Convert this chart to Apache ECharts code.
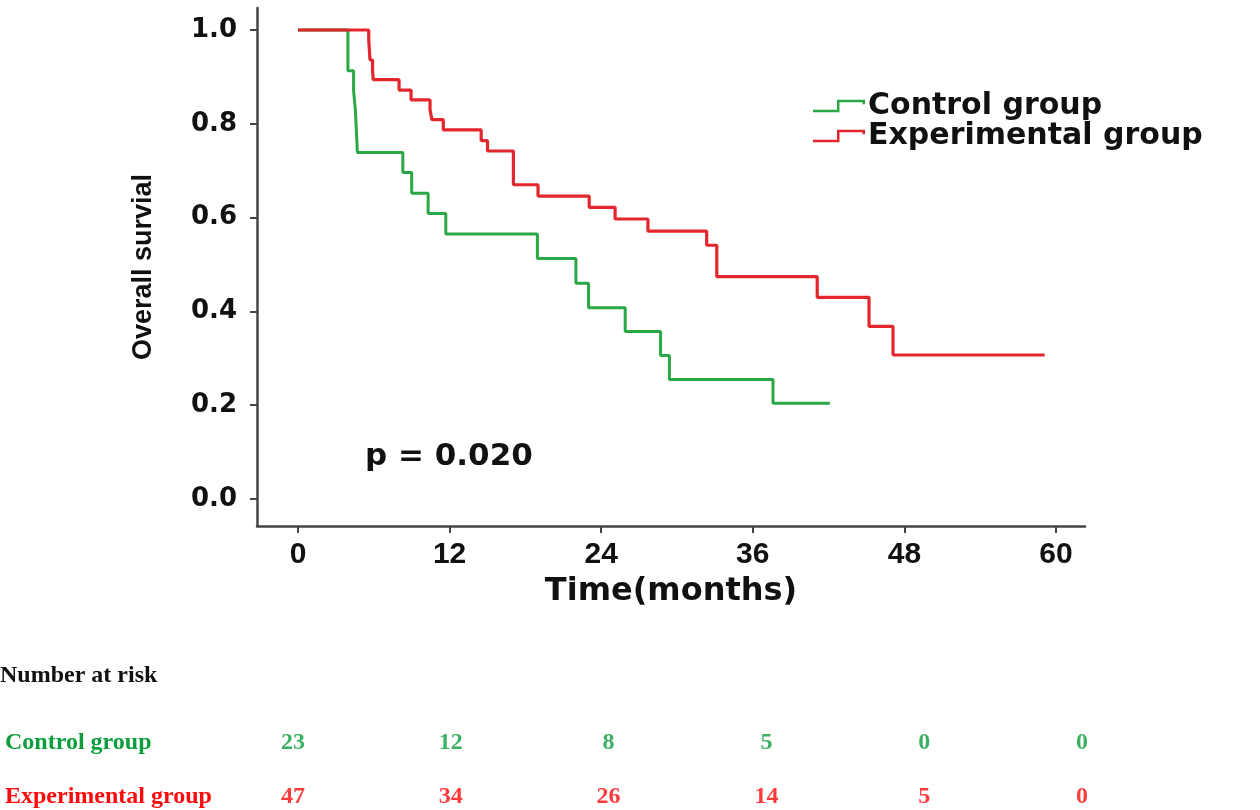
<!DOCTYPE html>
<html>
<head>
<meta charset="utf-8">
<title>Overall survival</title>
<script src="https://cdn.jsdelivr.net/npm/echarts@6/dist/echarts.min.js"></script>
<style>
  html, body { margin: 0; padding: 0; background: #fff; }
  #chart { width: 1260px; height: 810px; }
</style>
</head>
<body>
<div id="chart"></div>
<script>
// 曲线数据：时间(月) 与 生存率
var controlTime = [0, 3.95, 4.4, 4.55, 4.7, 8.3, 9.0, 10.3, 11.7, 18.95, 22.0, 23.0, 25.9, 28.7, 29.4, 37.6, 42.1];
var controlSurv = [1.0, 0.913, 0.870, 0.826, 0.739, 0.696, 0.652, 0.609, 0.565, 0.513, 0.460, 0.408, 0.357, 0.306, 0.255, 0.204, 0.204];

var expTime = [0, 5.6, 5.65, 5.7, 5.9, 5.95, 8.0, 8.95, 10.45, 10.6, 11.5, 14.5, 15.0, 17.05, 19.0, 23.05, 25.1, 27.7, 32.35, 33.15, 41.1, 45.2, 47.1, 59.1];
var expSurv = [1.0, 0.979, 0.957, 0.936, 0.915, 0.894, 0.872, 0.851, 0.830, 0.809, 0.787, 0.764, 0.742, 0.670, 0.646, 0.622, 0.597, 0.571, 0.541, 0.474, 0.430, 0.368, 0.307, 0.307];

// 坐标轴刻度
var xTicks = [0, 12, 24, 36, 48, 60];
var yTicks = [0, 0.2, 0.4, 0.6, 0.8, 1.0];

// 风险人数表
var groupNames = ['Control group', 'Experimental group'];
var riskTimes = [0, 12, 24, 36, 48, 60];
var riskControl = [23, 12, 8, 5, 0, 0];
var riskExp = [47, 34, 26, 14, 5, 0];

var pValueText = 'p = 0.020';

var curveGreen = '#2aa846';
var curveRed = '#e3262d';
var tableGreen = '#0c9e3c';
var tableRed = '#ff0a0a';

// 坐标轴线比数据范围略长（左/下各留一点空）
var xMin = -41 / (758 / 60), xMax = 60 + 29 / (758 / 60);
var yMin = -27 / 469, yMax = 1 + 22 / 469;

function pairs(xs, ys) {
    var out = [];
    for (var i = 0; i < xs.length; i++) {
        out.push([xs[i], ys[i]]);
    }
    return out;
}

function riskRow(row, values) {
    var out = [];
    for (var i = 0; i < riskTimes.length; i++) {
        out.push([riskTimes[i], row, values[i]]);
    }
    return out;
}

// 图例里的小阶梯图标
var stepIcon = 'path://M0,10L24,10L24,0L52,0L52,4.5L49.5,4.5L49.5,2.5L26.5,2.5L26.5,12.5L0,12.5Z';

var boldText = function (family, size, color) {
    return { fontFamily: family, fontWeight: 'bold', fontSize: size, color: color || '#111' };
};

var chart = echarts.init(document.getElementById('chart'));

var option = {
    animation: false,
    title: {
        text: 'Number at risk',
        left: 0,
        top: 664,
        padding: 0,
        textStyle: boldText('Liberation Serif', 24)
    },
    legend: {
        data: groupNames,
        orient: 'vertical',
        left: 808,
        top: 86,
        itemWidth: 52,
        itemHeight: 13,
        itemGap: 0,
        icon: stepIcon,
        textStyle: {
            fontFamily: 'DejaVu Sans',
            fontWeight: 'bold',
            fontSize: 30,
            lineHeight: 28,
            color: '#111',
            padding: [0, 0, 0, -2]
        }
    },
    grid: [
        { left: 257, right: 175, top: 8, bottom: 284 },
        // 风险表
        { left: 293, right: 178, top: 743, height: 54 }
    ],
    xAxis: [{
        gridIndex: 0,
        type: 'value',
        min: xMin,
        max: xMax,
        axisLine: { show: true, onZero: false, lineStyle: { color: '#444', width: 2.5 } },
        axisTick: { show: true, customValues: xTicks, length: 7, lineStyle: { color: '#444', width: 2 } },
        axisLabel: Object.assign({ margin: 14, customValues: xTicks }, boldText('Liberation Sans', 30)),
        splitLine: { show: false },
        name: 'Time(months)',
        nameLocation: 'middle',
        nameGap: 50,
        nameTextStyle: boldText('DejaVu Sans', 32)
    }, {
        gridIndex: 1,
        type: 'value',
        min: 0,
        max: 60,
        show: false
    }],
    yAxis: [{
        gridIndex: 0,
        type: 'value',
        min: yMin,
        max: yMax,
        axisLine: { show: true, onZero: false, lineStyle: { color: '#444', width: 2.5 } },
        axisTick: { show: true, customValues: yTicks, length: 7, lineStyle: { color: '#444', width: 2 } },
        axisLabel: Object.assign({
            margin: 20,
            customValues: yTicks,
            formatter: function (v) { return v.toFixed(1); }
        }, boldText('DejaVu Sans', 26)),
        splitLine: { show: false },
        name: 'Overall survial',
        nameLocation: 'middle',
        nameRotate: 90,
        nameGap: 100,
        nameTextStyle: boldText('Liberation Sans', 27)
    }, {
        gridIndex: 1,
        type: 'value',
        min: 0,
        max: 1,
        inverse: true,
        axisLine: { show: false },
        axisTick: { show: false },
        splitLine: { show: false },
        axisLabel: {
            customValues: [0, 1],
            formatter: function (v) { return groupNames[v]; },
            align: 'left',
            margin: 288,
            fontFamily: 'Liberation Serif',
            fontWeight: 'bold',
            fontSize: 24,
            color: function (v) {
                return Number(v) === 0 ? tableGreen : tableRed;
            }
        }
    }],
    graphic: [{
        type: 'text',
        left: 365,
        top: 441,
        style: {
            text: pValueText,
            fontFamily: 'DejaVu Sans',
            fontWeight: 'bold',
            fontSize: 31,
            fill: '#111'
        }
    }],
    series: [{
        name: groupNames[0],
        type: 'line',
        step: 'end',
        clip: false,
        symbol: 'none',
        color: curveGreen,
        lineStyle: { color: curveGreen, width: 3 },
        data: pairs(controlTime, controlSurv)
    }, {
        name: groupNames[1],
        type: 'line',
        step: 'end',
        clip: false,
        symbol: 'none',
        color: curveRed,
        lineStyle: { color: curveRed, width: 3.2 },
        data: pairs(expTime, expSurv)
    }, {
        type: 'scatter',
        xAxisIndex: 1,
        yAxisIndex: 1,
        symbolSize: 0,
        silent: true,
        label: {
            show: true,
            position: 'inside',
            formatter: function (p) { return p.value[2]; },
            fontFamily: 'Liberation Serif',
            fontWeight: 'bold',
            fontSize: 24,
            color: tableGreen
        },
        data: riskRow(0, riskControl)
    }, {
        type: 'scatter',
        xAxisIndex: 1,
        yAxisIndex: 1,
        symbolSize: 0,
        silent: true,
        label: {
            show: true,
            position: 'inside',
            formatter: function (p) { return p.value[2]; },
            fontFamily: 'Liberation Serif',
            fontWeight: 'bold',
            fontSize: 24,
            color: tableRed
        },
        data: riskRow(1, riskExp)
    }]
};

chart.setOption(option);
</script>
</body>
</html>
